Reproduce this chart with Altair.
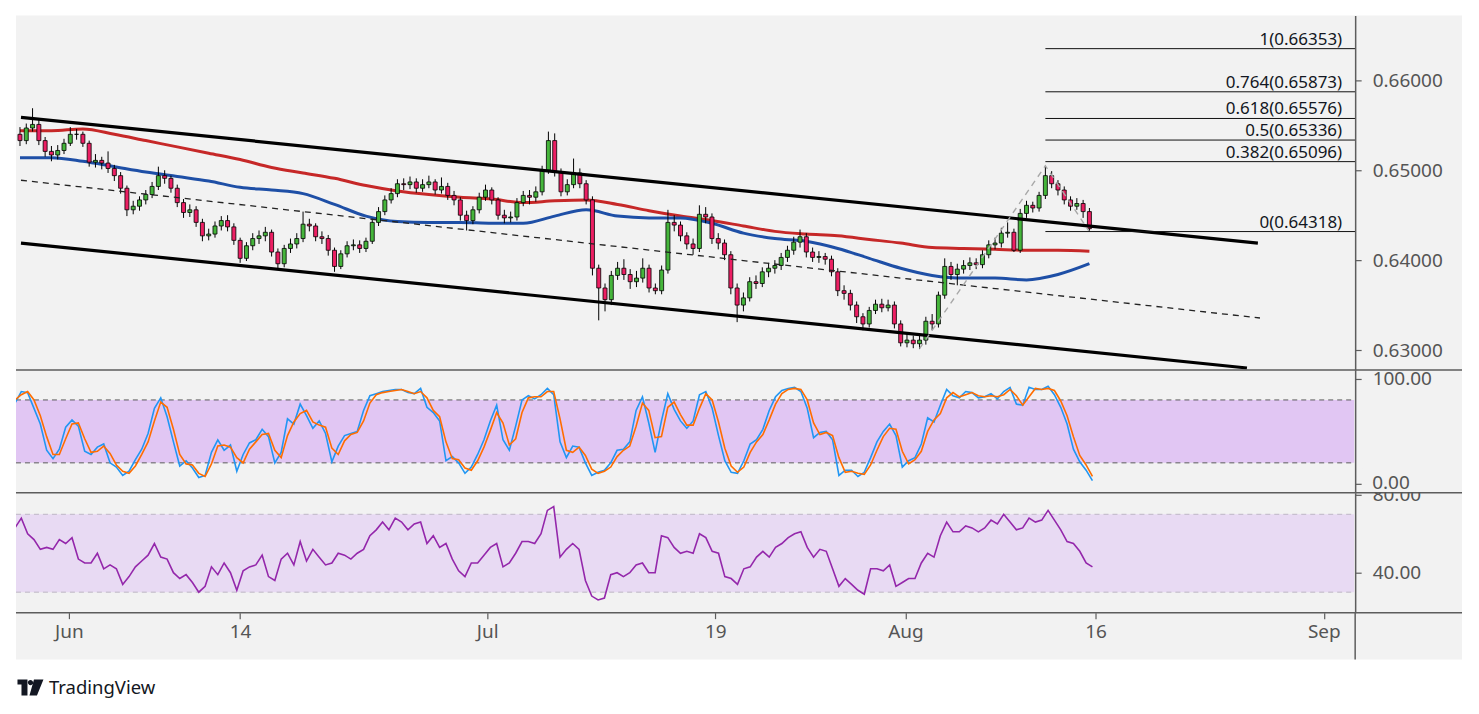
import altair as alt
import pandas as pd

# ---------------- data ----------------
first_open = 0.6540
closes = [
    0.6533, 0.6547, 0.6551, 0.6533, 0.6521, 0.6517, 0.6522, 0.6530, 0.6540, 0.6540,
    0.6530, 0.6509, 0.6511, 0.6508, 0.6502, 0.6494, 0.6480, 0.6456, 0.6460, 0.6467,
    0.6473, 0.6482, 0.6494, 0.6491, 0.6480, 0.6464, 0.6453, 0.6456, 0.6442, 0.6427,
    0.6429, 0.6438, 0.6444, 0.6437, 0.6422, 0.6402, 0.6416, 0.6424, 0.6427, 0.6431,
    0.6409, 0.6396, 0.6413, 0.6418, 0.6424, 0.6440, 0.6438, 0.6426, 0.6424, 0.6411,
    0.6393, 0.6407, 0.6416, 0.6417, 0.6413, 0.6421, 0.6442, 0.6454, 0.6467, 0.6474,
    0.6485, 0.6484, 0.6487, 0.6480, 0.6484, 0.6487, 0.6478, 0.6482, 0.6472, 0.6467,
    0.6450, 0.6444, 0.6456, 0.6470, 0.6478, 0.6467, 0.6450, 0.6447, 0.6448, 0.6464,
    0.6472, 0.6470, 0.6476, 0.6500, 0.6533, 0.6498, 0.6476, 0.6484, 0.6497, 0.6485,
    0.6467, 0.6391, 0.6369, 0.6356, 0.6383, 0.6391, 0.6384, 0.6376, 0.6380, 0.6391,
    0.6369, 0.6366, 0.6389, 0.6442, 0.6439, 0.6427, 0.6418, 0.6413, 0.6451, 0.6448,
    0.6424, 0.6419, 0.6406, 0.6369, 0.6350, 0.6358, 0.6376, 0.6374, 0.6387, 0.6391,
    0.6394, 0.6403, 0.6411, 0.6420, 0.6426, 0.6409, 0.6403, 0.6404, 0.6401, 0.6387,
    0.6366, 0.6363, 0.6350, 0.6337, 0.6329, 0.6344, 0.6351, 0.6347, 0.6350, 0.6329,
    0.6308, 0.6311, 0.6307, 0.6311, 0.6332, 0.6329, 0.6361, 0.6393, 0.6384, 0.6390,
    0.6394, 0.6397, 0.6395, 0.6406, 0.6417, 0.6419, 0.6430, 0.6431, 0.6411, 0.6452,
    0.6461, 0.6458, 0.6472, 0.6494, 0.6485, 0.6478, 0.6467, 0.6460, 0.6463, 0.6454,
    0.6435,
]
highs = [
    0.6548, 0.6552, 0.6569, 0.6556, 0.6537, 0.6527, 0.6528, 0.6535, 0.6548, 0.6546,
    0.6543, 0.6533, 0.6518, 0.6515, 0.6521, 0.6506, 0.6498, 0.6483, 0.6466, 0.6471,
    0.6478, 0.6487, 0.6504, 0.6500, 0.6494, 0.6484, 0.6468, 0.6462, 0.6460, 0.6446,
    0.6435, 0.6443, 0.6449, 0.6450, 0.6441, 0.6425, 0.6420, 0.6430, 0.6433, 0.6437,
    0.6434, 0.6413, 0.6417, 0.6424, 0.6430, 0.6454, 0.6446, 0.6441, 0.6432, 0.6428,
    0.6414, 0.6411, 0.6421, 0.6423, 0.6422, 0.6425, 0.6446, 0.6459, 0.6472, 0.6480,
    0.6490, 0.6491, 0.6493, 0.6491, 0.6490, 0.6494, 0.6490, 0.6492, 0.6486, 0.6477,
    0.6470, 0.6455, 0.6460, 0.6475, 0.6484, 0.6481, 0.6470, 0.6456, 0.6454, 0.6469,
    0.6477, 0.6478, 0.6482, 0.6505, 0.6543, 0.6541, 0.6502, 0.6490, 0.6513, 0.6502,
    0.6489, 0.6471, 0.6395, 0.6374, 0.6388, 0.6398, 0.6401, 0.6390, 0.6388, 0.6402,
    0.6395, 0.6374, 0.6394, 0.6456, 0.6450, 0.6443, 0.6431, 0.6424, 0.6461, 0.6459,
    0.6452, 0.6430, 0.6423, 0.6410, 0.6374, 0.6364, 0.6381, 0.6383, 0.6392, 0.6397,
    0.6400, 0.6408, 0.6416, 0.6426, 0.6434, 0.6430, 0.6414, 0.6410, 0.6408, 0.6405,
    0.6391, 0.6372, 0.6367, 0.6354, 0.6341, 0.6348, 0.6356, 0.6357, 0.6356, 0.6354,
    0.6333, 0.6318, 0.6316, 0.6317, 0.6337, 0.6340, 0.6365, 0.6402, 0.6398, 0.6396,
    0.6400, 0.6403, 0.6402, 0.6411, 0.6422, 0.6425, 0.6436, 0.6442, 0.6435, 0.6457,
    0.6466, 0.6465, 0.6476, 0.6505, 0.6499, 0.6489, 0.6482, 0.6471, 0.6469, 0.6467,
    0.6458,
]
lows = [
    0.6527, 0.6529, 0.6543, 0.6528, 0.6515, 0.6510, 0.6512, 0.6518, 0.6527, 0.6534,
    0.6526, 0.6504, 0.6503, 0.6501, 0.6497, 0.6488, 0.6474, 0.6449, 0.6451, 0.6455,
    0.6462, 0.6469, 0.6478, 0.6485, 0.6475, 0.6459, 0.6447, 0.6448, 0.6437, 0.6421,
    0.6422, 0.6425, 0.6433, 0.6432, 0.6417, 0.6397, 0.6399, 0.6411, 0.6418, 0.6421,
    0.6404, 0.6389, 0.6392, 0.6408, 0.6413, 0.6420, 0.6432, 0.6421, 0.6418, 0.6405,
    0.6387, 0.6390, 0.6403, 0.6411, 0.6408, 0.6409, 0.6418, 0.6438, 0.6450, 0.6463,
    0.6470, 0.6478, 0.6479, 0.6475, 0.6476, 0.6480, 0.6473, 0.6474, 0.6467, 0.6461,
    0.6444, 0.6433, 0.6440, 0.6452, 0.6466, 0.6462, 0.6445, 0.6441, 0.6442, 0.6444,
    0.6460, 0.6462, 0.6465, 0.6472, 0.6496, 0.6493, 0.6471, 0.6472, 0.6480, 0.6480,
    0.6462, 0.6383, 0.6333, 0.6343, 0.6350, 0.6378, 0.6378, 0.6368, 0.6370, 0.6375,
    0.6364, 0.6362, 0.6362, 0.6385, 0.6432, 0.6421, 0.6412, 0.6406, 0.6409, 0.6441,
    0.6418, 0.6412, 0.6400, 0.6362, 0.6331, 0.6343, 0.6354, 0.6368, 0.6370, 0.6381,
    0.6385, 0.6389, 0.6398, 0.6406, 0.6414, 0.6403, 0.6398, 0.6397, 0.6395, 0.6382,
    0.6360, 0.6356, 0.6344, 0.6330, 0.6322, 0.6325, 0.6340, 0.6342, 0.6343, 0.6324,
    0.6304, 0.6303, 0.6302, 0.6301, 0.6306, 0.6322, 0.6325, 0.6357, 0.6378, 0.6372,
    0.6385, 0.6389, 0.6390, 0.6391, 0.6402, 0.6412, 0.6414, 0.6425, 0.6409, 0.6408,
    0.6447, 0.6453, 0.6454, 0.6468, 0.6480, 0.6472, 0.6462, 0.6455, 0.6456, 0.6447,
    0.6432,
]
stoch_k = [
    77, 88, 87, 72, 57, 32, 24, 33, 54, 61,
    55, 31, 28, 35, 38, 20, 16, 8, 12, 23,
    33, 48, 72, 82, 64, 40, 17, 22, 15, 6,
    8, 30, 42, 32, 37, 12, 28, 39, 42, 52,
    45, 20, 30, 62, 57, 76, 65, 53, 60, 48,
    21, 36, 46, 48, 50, 70, 84, 86, 88, 89,
    90, 90, 87, 86, 91, 73, 68, 60, 22, 26,
    20, 10, 16, 28, 42, 60, 75, 42, 32, 55,
    80, 84, 81, 85, 91, 85, 40, 25, 36, 35,
    20, 8, 11, 13, 20, 32, 33, 40, 70, 83,
    58, 30, 60, 86, 71, 60, 53, 60, 85, 88,
    72, 46, 22, 11, 10, 22, 38, 42, 52, 70,
    83, 89, 91, 92, 88, 72, 44, 49, 50, 42,
    8, 13, 13, 7, 11, 25, 40, 50, 57, 46,
    16, 22, 25, 38, 63, 59, 75, 90, 84, 82,
    88, 87, 82, 83, 86, 81, 88, 92, 76, 75,
    92, 90, 90, 93, 85, 73, 57, 33, 21, 13,
    3,
]
stoch_d = [
    80, 85, 88, 80, 65, 45, 28, 28, 43, 57,
    58, 43, 30, 31, 36, 29, 18, 12, 10, 17,
    28, 40, 60, 78, 73, 52, 28, 19, 18, 10,
    7, 19, 36, 37, 35, 25, 20, 33, 40, 47,
    48, 32, 25, 46, 59, 67, 70, 59, 56, 54,
    34, 28, 41, 47, 49, 60, 77, 85, 87, 88,
    89, 90, 88, 86, 88, 82, 70, 64, 40, 24,
    23, 15, 13, 22, 35, 51, 68, 58, 37, 43,
    68, 82, 83, 83, 88, 88, 62, 32, 30, 35,
    27, 14, 10, 12, 16, 26, 32, 36, 55, 77,
    70, 44, 45, 73, 78, 66, 56, 56, 72, 86,
    80, 59, 34, 17, 11, 16, 30, 40, 47, 61,
    76, 86, 90, 91, 90, 80, 58, 47, 49, 46,
    25, 11, 12, 10, 9, 18, 32, 45, 53, 52,
    31, 19, 23, 31, 50, 61, 67, 82, 87, 83,
    85, 87, 84, 83, 84, 83, 85, 90, 84, 75,
    83, 91, 90, 91, 89, 79, 65, 45, 27, 18,
    7,
]
rsi_vals = [
    63, 68, 60, 57, 52, 53, 52, 57, 55, 58,
    47, 45, 45, 50, 42, 44, 42, 34, 38, 43,
    46, 49, 55, 48, 47, 40, 37, 39, 35, 30,
    33, 43, 39, 45, 40, 31, 41, 43, 44, 49,
    38, 36, 47, 50, 44, 56, 46, 52, 48, 44,
    45, 50, 49, 47, 50, 52, 59, 62, 66, 62,
    68, 66, 62, 65, 66, 55, 59, 53, 55, 47,
    41, 38, 45, 45, 49, 53, 55, 43, 45, 50,
    56, 56, 55, 60, 72, 74, 48, 52, 55, 52,
    36, 28, 26, 27, 39, 40, 38, 40, 44, 45,
    40, 40, 59, 58, 53, 50, 51, 50, 60, 58,
    51, 50, 38, 37, 34, 42, 43, 48, 51, 48,
    53, 55, 58, 60, 61, 53, 48, 52, 51, 42,
    33, 37, 34, 31, 29, 42, 42, 41, 44, 33,
    35, 37, 37, 45, 50, 48, 59, 66, 61, 61,
    64, 63, 61, 63, 67, 65, 70, 66, 62, 63,
    68, 66, 67, 72, 67, 62, 56, 55, 51, 45,
    43,
]
# moving averages, read every 5th bar
ma_bars = [0, 5, 10, 15, 20, 25, 30, 35, 40, 45, 50, 55, 60, 65, 70, 75, 80, 85,
           90, 95, 100, 105, 110, 115, 120, 125, 130, 135, 140, 145, 150, 155, 160, 165, 170]
ma_red = [0.6544, 0.6544, 0.6546, 0.6540, 0.6533, 0.6526, 0.6519, 0.6512, 0.6503, 0.6497,
          0.6491, 0.6483, 0.6477, 0.6473, 0.6470, 0.6468, 0.6464, 0.6466, 0.6467, 0.6462,
          0.6455, 0.6449, 0.6444, 0.6438, 0.6432, 0.6429, 0.6427, 0.6423, 0.6419, 0.6414,
          0.6413, 0.6412, 0.6411, 0.6411, 0.6410]
ma_blue = [0.6514, 0.6514, 0.6510, 0.6504, 0.6498, 0.6493, 0.6488, 0.6481, 0.6478, 0.6474,
           0.6462, 0.6449, 0.6443, 0.6442, 0.6442, 0.6441, 0.6441, 0.6449, 0.6456, 0.6449,
           0.6447, 0.6447, 0.6441, 0.6430, 0.6424, 0.6421, 0.6413, 0.6402, 0.6391, 0.6383,
           0.6380, 0.6380, 0.6378, 0.6384, 0.6396]
# channel (x in trading days from 1 Jun)
chan_id = ["upper", "upper", "lower", "lower"]
chan_t = [-2.78, 62.76, -2.78, 62.18]
chan_p = [0.65589, 0.64189, 0.64189, 0.62800]
mid_t = [-2.78, 62.87]
mid_p = [0.64889, 0.63356]
# fibonacci extension
trend_t = [44.83, 51.5, 53.83]
trend_p = [0.63015, 0.6505, 0.64318]
fib_ratio = ["1", "0.764", "0.618", "0.5", "0.382", "0"]
fib_price = [0.66353, 0.65873, 0.65576, 0.65336, 0.65096, 0.64318]
fib_start = 51.5
# time axis
tick_days = [0, 9, 22, 34, 44, 54, 66]
tick_labels = ["Jun", "14", "Jul", "19", "Aug", "16", "Sep"]

# ---------------- layout constants ----------------
W = 1341
H1, H2, H3 = 355, 123, 120
FULLW = 1448
XDOM = [-2.78, 67.65]
FONT = "Noto Sans"
AXC = "#555555"
LINEC = "#5d5d5d"
BG = "#f2f2f2"
GREEN = "#45b53b"
RED = "#ec1f63"

n = len(closes)
tvals = [-3 + (k + 0.5) / 3 for k in range(n)]
opens = [first_open] + closes[:-1]
bars = pd.DataFrame({"t": tvals, "open": opens, "close": closes, "high": highs,
                     "low": lows, "k": stoch_k, "d": stoch_d, "rsi": rsi_vals})
ma = pd.DataFrame({"t": [tvals[i] for i in ma_bars], "red": ma_red, "blue": ma_blue})
chan = pd.DataFrame({"id": chan_id, "t": chan_t, "p": chan_p})
mid = pd.DataFrame({"t": mid_t, "p": mid_p})
trend = pd.DataFrame({"t": trend_t, "p": trend_p})
fib = pd.DataFrame({"p": fib_price,
                    "label": [f"{r}({p:.5f})" for r, p in zip(fib_ratio, fib_price)]})
fib["t"] = fib_start

xs = alt.Scale(domain=XDOM, nice=False, zero=False)
xq = alt.X("t:Q", scale=xs, axis=None)
one = pd.DataFrame({"a": [0]})


def yaxis(values, fmt, zindex, expr=None):
    kw = dict(orient="right", values=values, format=fmt, grid=False, tickSize=6,
              tickColor=LINEC, tickWidth=1.2, domainColor=LINEC, domainWidth=1.5,
              labelFontSize=19, labelFont=FONT, labelColor=AXC, labelPadding=11,
              title=None, zindex=zindex)
    if expr:
        kw["labelExpr"] = expr
    return alt.Axis(**kw)


# ---------------- price panel ----------------
ps = alt.Scale(domain=[0.627778, 0.667222], nice=False, zero=False)
pax = yaxis([0.63, 0.64, 0.65, 0.66], ".5f", 1)


def py(field):
    return alt.Y(field, scale=ps, axis=pax)


bg = alt.Chart(one).mark_rect(color=BG).encode(
    x=alt.value(0), x2=alt.value(FULLW), y=alt.value(0), y2=alt.value(645))
ma_red_l = alt.Chart(ma).mark_line(color="#c62828", strokeWidth=3, interpolate="monotone",
                                   clip=True).encode(x=xq, y=py("red:Q"))
ma_blue_l = alt.Chart(ma).mark_line(color="#1e4fa6", strokeWidth=3, interpolate="monotone",
                                    clip=True).encode(x=xq, y=py("blue:Q"))
wicks = alt.Chart(bars).mark_rule(color="black", strokeWidth=1, clip=True).encode(
    x=xq, y=py("low:Q"), y2="high:Q")
bodies = alt.Chart(bars).mark_bar(size=4, stroke="black", strokeWidth=0.8, clip=True).encode(
    x=xq, y=py("open:Q"), y2="close:Q",
    color=alt.condition("datum.close >= datum.open", alt.value(GREEN), alt.value(RED)))
chan_l = alt.Chart(chan).mark_line(color="black", strokeWidth=3.2, clip=True).encode(
    x=xq, y=py("p:Q"), detail="id:N")
mid_l = alt.Chart(mid).mark_line(color="#222222", strokeWidth=1.3, strokeDash=[6, 5]).encode(
    x=xq, y=py("p:Q"))
trend_l = alt.Chart(trend).mark_line(color="#a8a8a8", strokeWidth=1.4, strokeDash=[6, 5]).encode(
    x=xq, y=py("p:Q"))
fib_l = alt.Chart(fib).mark_rule(color="#111111", strokeWidth=1).encode(
    x=xq, x2=alt.value(W), y=py("p:Q"))
fib_t = alt.Chart(fib).mark_text(align="right", baseline="alphabetic", dy=-4, fontSize=17,
                                 font=FONT, color="#131722").encode(
    x=alt.value(W - 13), y=py("p:Q"), text="label:N")
sep1 = alt.Chart(one).mark_rule(color=LINEC, strokeWidth=1.5).encode(
    x=alt.value(0), x2=alt.value(FULLW), y=alt.value(H1))
price = alt.layer(bg, ma_red_l, ma_blue_l, wicks, bodies, chan_l, mid_l, trend_l,
                  fib_l, fib_t, sep1).properties(width=W, height=H1)

# ---------------- stochastic panel ----------------
ss = alt.Scale(domain=[-8.57, 108.57], nice=False, zero=False)
sax = yaxis([0, 100], ".2f", 1, "datum.value == 0 ? '' : datum.label")


def sy(field):
    return alt.Y(field, scale=ss, axis=sax)


band_s = alt.Chart(pd.DataFrame({"lo": [20], "hi": [80]})).mark_rect(color="#e1c6f3").encode(
    x=alt.value(0), x2=alt.value(W - 1), y=sy("lo:Q"), y2="hi:Q")
lines_s = alt.Chart(pd.DataFrame({"v": [20, 80]})).mark_rule(
    color="#5a5a5a", strokeWidth=1, strokeDash=[5, 4]).encode(
    x=alt.value(0), x2=alt.value(W), y=sy("v:Q"))
k_l = alt.Chart(bars).mark_line(color="#2196f3", strokeWidth=1.6, clip=True).encode(
    x=xq, y=sy("k:Q"))
d_l = alt.Chart(bars).mark_line(color="#ff6d00", strokeWidth=1.6, clip=True).encode(
    x=xq, y=sy("d:Q"))
sep2 = alt.Chart(one).mark_rule(color=LINEC, strokeWidth=1.5).encode(
    x=alt.value(0), x2=alt.value(FULLW), y=alt.value(H2))
stoch = alt.layer(band_s, lines_s, k_l, d_l, sep2).properties(width=W, height=H2)

# ---------------- RSI panel ----------------
rs = alt.Scale(domain=[19.49, 81.03], nice=False, zero=False)
rax = yaxis([40, 80], ".2f", 0)


def ry(field):
    return alt.Y(field, scale=rs, axis=rax)


label_expr = " : ".join(f"datum.value == {d} ? '{l}'" for d, l in zip(tick_days, tick_labels)) + " : ''"
x_axis = alt.Axis(orient="bottom", values=tick_days, labelExpr=label_expr, domain=False,
                  ticks=True, tickSize=6, tickColor=LINEC, tickWidth=1.2, grid=False,
                  labelFontSize=19, labelFont=FONT, labelColor=AXC, labelPadding=4,
                  labelFlush=False, title=None)
band_r = alt.Chart(pd.DataFrame({"lo": [30], "hi": [70]})).mark_rect(color="#e8daf3").encode(
    x=alt.value(0), x2=alt.value(W - 1), y=ry("lo:Q"), y2="hi:Q")
lines_r = alt.Chart(pd.DataFrame({"v": [30, 70]})).mark_rule(
    color="#bdb6c4", strokeWidth=1, strokeDash=[5, 4]).encode(
    x=alt.value(0), x2=alt.value(W), y=ry("v:Q"))
rsi_l = alt.Chart(bars).mark_line(color="#9427ab", strokeWidth=1.6, clip=True).encode(
    x=alt.X("t:Q", scale=xs, axis=x_axis), y=ry("rsi:Q"))
sep3 = alt.Chart(one).mark_rule(color=LINEC, strokeWidth=1.5).encode(
    x=alt.value(0), x2=alt.value(FULLW), y=alt.value(H3))
vext = alt.Chart(one).mark_rule(color=LINEC, strokeWidth=1.5).encode(
    x=alt.value(W), y=alt.value(H3), y2=alt.value(H3 + 47))
cover = alt.Chart(one).mark_rect(color=BG).encode(
    x=alt.value(W + 7), x2=alt.value(FULLW), y=alt.value(-24), y2=alt.value(-0.8))
zero_lbl = alt.Chart(one).mark_text(text="0.00", align="left", baseline="middle",
                                    fontSize=19, font=FONT, color=AXC).encode(
    x=alt.value(W + 17), y=alt.value(-10))
logo_path = ("M-1,-0.615 L-0.231,-0.615 L-0.231,0.615 L-0.692,0.615 L-0.692,-0.231 L-1,-0.231 Z "
             "M-0.2,-0.385 A0.2,0.2 0 1,0 0.2,-0.385 A0.2,0.2 0 1,0 -0.2,-0.385 Z "
             "M0.269,-0.615 L1,-0.615 L0.5,0.615 L-0.077,0.615 Z")
logo = alt.Chart(one).mark_point(shape=logo_path, filled=True, size=676, color="#131722",
                                 opacity=1, strokeWidth=0).encode(
    x=alt.value(14.5), y=alt.value(195))
logo_txt = alt.Chart(one).mark_text(text="TradingView", align="left", baseline="middle",
                                    fontSize=18.5, font=FONT, color="#131722").encode(
    x=alt.value(33), y=alt.value(195))
rsi = alt.layer(band_r, lines_r, rsi_l, sep3, vext, cover, zero_lbl, logo, logo_txt).properties(
    width=W, height=H3)

chart = alt.vconcat(price, stoch, rsi, spacing=0, bounds="flush").properties(
    background="white",
    padding={"left": 7, "top": 7, "right": 8, "bottom": 6},
).configure_view(stroke=None)

chart.save("out.html", embed_options={"renderer": "svg", "actions": False})
